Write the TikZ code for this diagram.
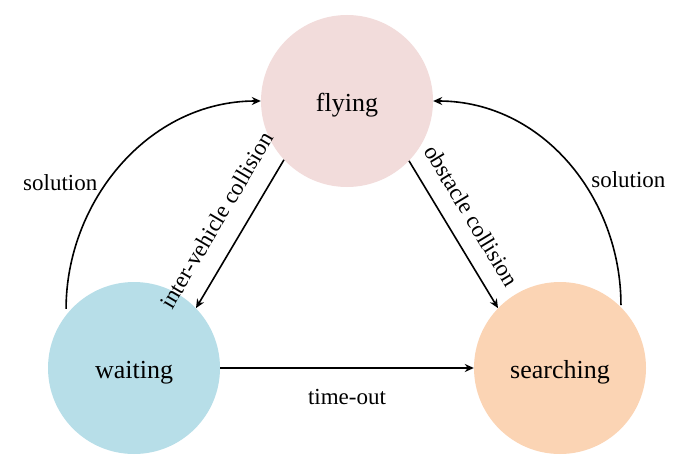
\documentclass[tikz,border=0pt]{standalone}
\usepackage{fontspec}
\setmainfont{Liberation Serif}
\usetikzlibrary{arrows.meta}
\definecolor{flypink}{HTML}{F2DCDB}
\definecolor{waitblue}{HTML}{B7DEE8}
\definecolor{searchpeach}{HTML}{FBD4B4}
\begin{document}
\begin{tikzpicture}[x=1pt,y=1pt,
    state/.style={circle,minimum size=172pt,inner sep=0pt,text height=26pt,text depth=5pt,font=\fontsize{26}{30}\selectfont},
    trans/.style={line width=1.6pt,-{Stealth[length=9pt,width=8pt]}},
    lbl/.style={font=\fontsize{23}{27}\selectfont}]
      \useasboundingbox (0,0) rectangle (690,467);
      \node[state,fill=flypink] (flying) at (347,366) {flying};
      \node[state,fill=waitblue] (waiting) at (134,99) {waiting};
      \node[state,fill=searchpeach] (searching) at (560,99) {searching};
      \draw[trans] (flying.223) -- (waiting.44)
        node[lbl,midway,sloped,above=15pt] {inter-vehicle collision};
      \draw[trans] (flying.316) -- (searching.136)
        node[lbl,pos=0.46,sloped,above=13pt] {obstacle collision};
      \draw[trans] (waiting.east) -- (searching.west)
        node[lbl,midway,below=17pt] {time-out};
      \draw[trans,shorten <=6pt] (waiting.142) to[out=90,in=180]
        node[lbl,pos=0.43,left=6pt] {solution} (flying.west);
      \draw[trans,shorten <=2pt] (searching.45) to[out=90,in=0]
        node[lbl,pos=0.43,right=6pt] {solution} (flying.east);
    \end{tikzpicture}
\end{document}
